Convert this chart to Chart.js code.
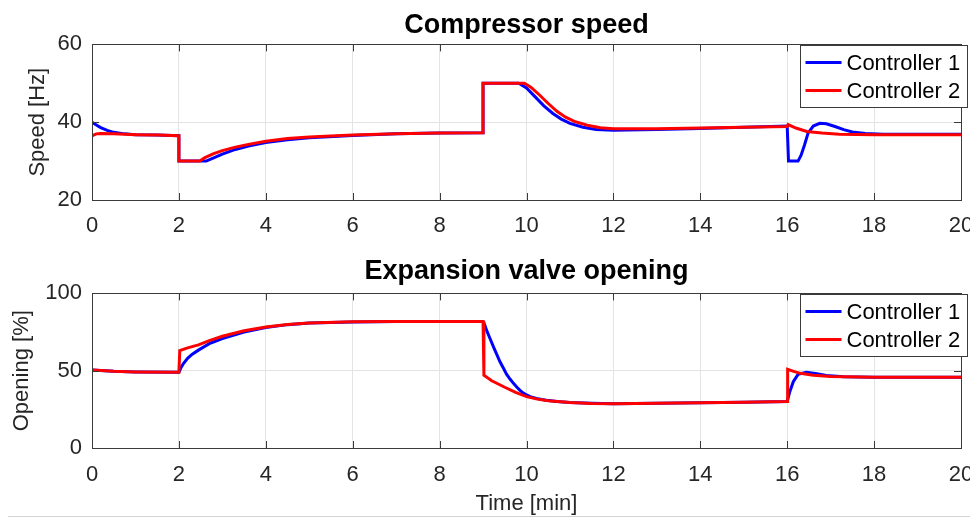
<!DOCTYPE html>
<html>
<head>
<meta charset="utf-8">
<script src="https://cdn.jsdelivr.net/npm/chart.js@4/dist/chart.umd.min.js"></script>
<style>
    html, body { margin: 0; padding: 0; background: #fff; }
    body { width: 970px; height: 517px; position: relative; overflow: hidden; }
    .panel { position: absolute; left: 0; width: 970px; }
    #panelArriba { top: 0; height: 250px; }
    #panelAbajo { top: 250px; height: 267px; }
    .linea-borde { position: absolute; left: 8px; right: 0; top: 516px; height: 0; border-top: 1px solid #d4d4d4; }
</style>
</head>
<body>
<div class="panel" id="panelArriba"><canvas id="graficoVelocidad"></canvas></div>
<div class="panel" id="panelAbajo"><canvas id="graficoApertura"></canvas></div>
<div class="linea-borde"></div>
<script>
// Datos (tiempo en minutos)
const nombresSeries = ['Controller 1', 'Controller 2'];

// Velocidad del compresor [Hz]
const tVel1 = [0, 0.1, 0.2, 0.35, 0.5, 0.75, 1, 1.5, 2, 2, 2.63, 2.8, 3, 3.3, 3.6, 4, 4.5, 5, 6, 7, 8, 9, 9, 9.82, 10, 10.2, 10.4, 10.6, 10.8, 11, 11.3, 11.6, 12, 13, 14, 15, 16, 16.03, 16.25, 16.32, 16.4, 16.48, 16.6, 16.75, 16.9, 17.1, 17.3, 17.5, 17.8, 18.2, 19, 20];
const vel1 = [40, 39.3, 38.6, 37.9, 37.4, 37.0, 36.8, 36.7, 36.5, 30, 30, 30.8, 31.8, 33.0, 33.9, 34.8, 35.5, 36.0, 36.6, 37.0, 37.2, 37.3, 50, 50, 48.8, 46.5, 44.2, 42.3, 40.8, 39.7, 38.7, 38.1, 37.9, 38.1, 38.4, 38.7, 39.0, 30, 30, 31.5, 34.2, 37.2, 39.0, 39.7, 39.6, 38.9, 38.1, 37.5, 37.1, 36.9, 36.9, 36.9];
const tVel2 = [0, 0.1, 0.2, 0.5, 1, 1.5, 2, 2, 2.48, 2.6, 2.8, 3, 3.3, 3.6, 4, 4.5, 5, 6, 7, 8, 9, 9, 9.95, 10.1, 10.3, 10.5, 10.7, 10.9, 11.1, 11.4, 11.7, 12, 13, 14, 15, 16, 16.02, 16.2, 16.45, 16.8, 17.2, 18, 20];
const vel2 = [36.5, 37.0, 37.1, 37.0, 36.8, 36.7, 36.5, 30, 30, 30.9, 31.9, 32.7, 33.6, 34.3, 35.1, 35.8, 36.2, 36.7, 37.0, 37.2, 37.3, 50, 50, 49.0, 47.0, 44.8, 42.8, 41.3, 40.2, 39.2, 38.6, 38.3, 38.3, 38.5, 38.7, 38.9, 39.4, 38.5, 37.6, 37.2, 36.9, 36.8, 36.8];

// Apertura de la válvula de expansión [%]
const tApe1 = [0, 0.5, 1, 2, 2.05, 2.1, 2.2, 2.3, 2.45, 2.7, 3, 3.5, 4, 4.5, 5, 6, 7, 8, 9, 9.04, 9.08, 9.16, 9.24, 9.32, 9.39, 9.47, 9.54, 9.62, 9.7, 9.78, 9.85, 9.92, 10, 10.1, 10.23, 10.35, 10.46, 10.7, 11, 11.5, 12, 13, 14, 15, 16, 16.06, 16.14, 16.25, 16.44, 16.65, 16.9, 17.3, 18, 20];
const ape1 = [50.5, 49.6, 49.2, 49.0, 52, 54.5, 58, 60.5, 63.3, 67.5, 70.8, 75, 78, 79.8, 80.8, 81.5, 81.8, 81.9, 81.9, 79.5, 76.2, 70.8, 65.4, 60.3, 55.8, 51.6, 47.8, 44.6, 41.8, 39.3, 37.3, 35.7, 34.3, 33.1, 32.1, 31.4, 30.9, 30.1, 29.4, 28.9, 28.6, 28.9, 29.2, 29.6, 30.0, 36.4, 42.9, 47.6, 49.0, 48.2, 46.9, 46.1, 45.8, 45.7];
const tApe2 = [0, 0.5, 1, 2, 2.02, 2.2, 2.45, 2.7, 3, 3.5, 4, 4.5, 5, 6, 7, 8, 9, 9.02, 9.2, 9.5, 9.75, 10, 10.25, 10.5, 11, 11.5, 12, 13, 14, 15, 16, 16.01, 16.15, 16.3, 16.6, 17, 18, 20];
const ape2 = [50.5, 49.6, 49.2, 49.0, 63, 64.8, 66.7, 69.5, 72.3, 75.8, 78.3, 79.9, 80.9, 81.6, 81.8, 81.9, 81.9, 47, 43.5, 39.3, 36, 33.2, 31.6, 30.6, 29.4, 28.8, 28.6, 28.9, 29.2, 29.6, 30.0, 50.9, 49.6, 48.3, 47.0, 46.2, 45.8, 45.7];

// Ejes
const ticksTiempo = { min: 0, max: 20, paso: 2 };
const ticksVelocidad = { min: 20, max: 60, paso: 20 };
const ticksApertura = { min: 0, max: 100, paso: 50 };

const coloresSeries = ['#0000ff', '#ff0000'];

(function() {
    'use strict';

    var fuente = "'Liberation Sans', Arial, Helvetica, sans-serif";
    var colorTexto = '#262626';
    var colorRejilla = '#e4e4e4';

    function puntos(ts, vs) {
        return ts.map(function(t, i) { return { x: t, y: vs[i] }; });
    }

    // Caja tipo MATLAB con marcas hacia dentro
    var pluginCaja = {
        id: 'caja',
        afterDatasetsDraw: function(chart) {
            var ctx = chart.ctx, a = chart.chartArea;
            var sx = chart.scales.x, sy = chart.scales.y;
            var largo = 7;
            ctx.save();
            ctx.strokeStyle = '#3a3a3a';
            ctx.lineWidth = 1;
            ctx.beginPath();
            sx.ticks.forEach(function(t) {
                var px = Math.round(sx.getPixelForValue(t.value)) + 0.5;
                ctx.moveTo(px, a.top); ctx.lineTo(px, a.top + largo);
                ctx.moveTo(px, a.bottom); ctx.lineTo(px, a.bottom - largo);
            });
            sy.ticks.forEach(function(t) {
                var py = Math.round(sy.getPixelForValue(t.value)) + 0.5;
                ctx.moveTo(a.left, py); ctx.lineTo(a.left + largo, py);
                ctx.moveTo(a.right, py); ctx.lineTo(a.right - largo, py);
            });
            ctx.stroke();
            ctx.strokeRect(Math.round(a.left) + 0.5, Math.round(a.top) + 0.5,
                Math.round(a.right - a.left), Math.round(a.bottom - a.top));
            ctx.restore();
        }
    };

    // Leyenda dentro del área, arriba a la derecha
    var pluginLeyenda = {
        id: 'leyendaDentro',
        afterDraw: function(chart) {
            var ctx = chart.ctx, a = chart.chartArea;
            var x0 = Math.round(a.right) - 160.5, y0 = Math.round(a.top) + 1.5;
            var ancho = 167, alto = 62;
            ctx.save();
            ctx.fillStyle = '#fff';
            ctx.fillRect(x0, y0, ancho, alto);
            ctx.strokeStyle = '#3a3a3a';
            ctx.lineWidth = 1;
            ctx.strokeRect(x0, y0, ancho, alto);
            ctx.font = '22px ' + fuente;
            ctx.textBaseline = 'middle';
            chart.data.datasets.forEach(function(ds, i) {
                var y = y0 + 17 + i * 28;
                ctx.strokeStyle = ds.borderColor;
                ctx.lineWidth = 3;
                ctx.beginPath();
                ctx.moveTo(x0 + 5, y); ctx.lineTo(x0 + 41, y);
                ctx.stroke();
                ctx.fillStyle = '#000';
                ctx.fillText(ds.label, x0 + 46, y + 1);
            });
            ctx.restore();
        }
    };

    function crearGrafico(idCanvas, cfg) {
        var datasets = cfg.series.map(function(s, i) {
            return {
                label: nombresSeries[i],
                data: puntos(s[0], s[1]),
                borderColor: coloresSeries[i],
                backgroundColor: coloresSeries[i],
                borderWidth: 3,
                pointRadius: 0,
                tension: 0,
                fill: false,
                order: 2 - i
            };
        });

        return new Chart(document.getElementById(idCanvas), {
            type: 'line',
            data: { datasets: datasets },
            plugins: [pluginCaja, pluginLeyenda],
            options: {
                responsive: true,
                maintainAspectRatio: false,
                animation: false,
                parsing: false,
                layout: { padding: { left: 0, right: 9, top: 0, bottom: 0 } },
                plugins: {
                    legend: { display: false },
                    tooltip: { enabled: false },
                    title: {
                        display: true,
                        text: cfg.titulo,
                        fullSize: false,
                        color: '#000',
                        font: { family: fuente, size: 27, weight: 'bold' },
                        padding: cfg.padTitulo
                    }
                },
                scales: {
                    x: {
                        type: 'linear',
                        min: ticksTiempo.min,
                        max: ticksTiempo.max,
                        ticks: {
                            stepSize: ticksTiempo.paso,
                            color: colorTexto,
                            font: { family: fuente, size: 22 },
                            padding: cfg.padTicksX,
                            maxRotation: 0
                        },
                        grid: { color: colorRejilla, drawTicks: false },
                        border: { display: false },
                        title: {
                            display: !!cfg.tituloX,
                            text: cfg.tituloX || '',
                            color: colorTexto,
                            font: { family: fuente, size: 22 },
                            padding: 0
                        },
                        afterFit: function(scale) {
                            scale.height = cfg.altoEjeX;
                            scale.paddingLeft = 0;
                            scale.paddingRight = 0;
                        }
                    },
                    y: {
                        min: cfg.ejeY.min,
                        max: cfg.ejeY.max,
                        ticks: {
                            stepSize: cfg.ejeY.paso,
                            color: colorTexto,
                            font: { family: fuente, size: 22 },
                            padding: 10
                        },
                        grid: { color: colorRejilla, drawTicks: false },
                        border: { display: false },
                        title: {
                            display: true,
                            text: cfg.tituloY,
                            color: colorTexto,
                            font: { family: fuente, size: 22 },
                            padding: { top: cfg.padTituloY, bottom: 0 }
                        },
                        afterFit: function(scale) {
                            scale.width = 92;
                            scale.paddingTop = 0;
                            scale.paddingBottom = 0;
                        }
                    }
                }
            }
        });
    }

    document.addEventListener('DOMContentLoaded', function() {
        crearGrafico('graficoVelocidad', {
            titulo: 'Compressor speed',
            padTitulo: { top: 9, bottom: 3 },
            tituloY: 'Speed [Hz]',
            padTituloY: 25,
            padTicksX: 13,
            ejeY: ticksVelocidad,
            altoEjeX: 50,
            series: [[tVel1, vel1], [tVel2, vel2]]
        });
        crearGrafico('graficoApertura', {
            titulo: 'Expansion valve opening',
            padTituloY: 9,
            padTitulo: { top: 5, bottom: 6 },
            tituloY: 'Opening [%]',
            tituloX: 'Time [min]',
            padTicksX: 14,
            ejeY: ticksApertura,
            altoEjeX: 69,
            series: [[tApe1, ape1], [tApe2, ape2]]
        });
    });
})();
</script>
</body>
</html>
